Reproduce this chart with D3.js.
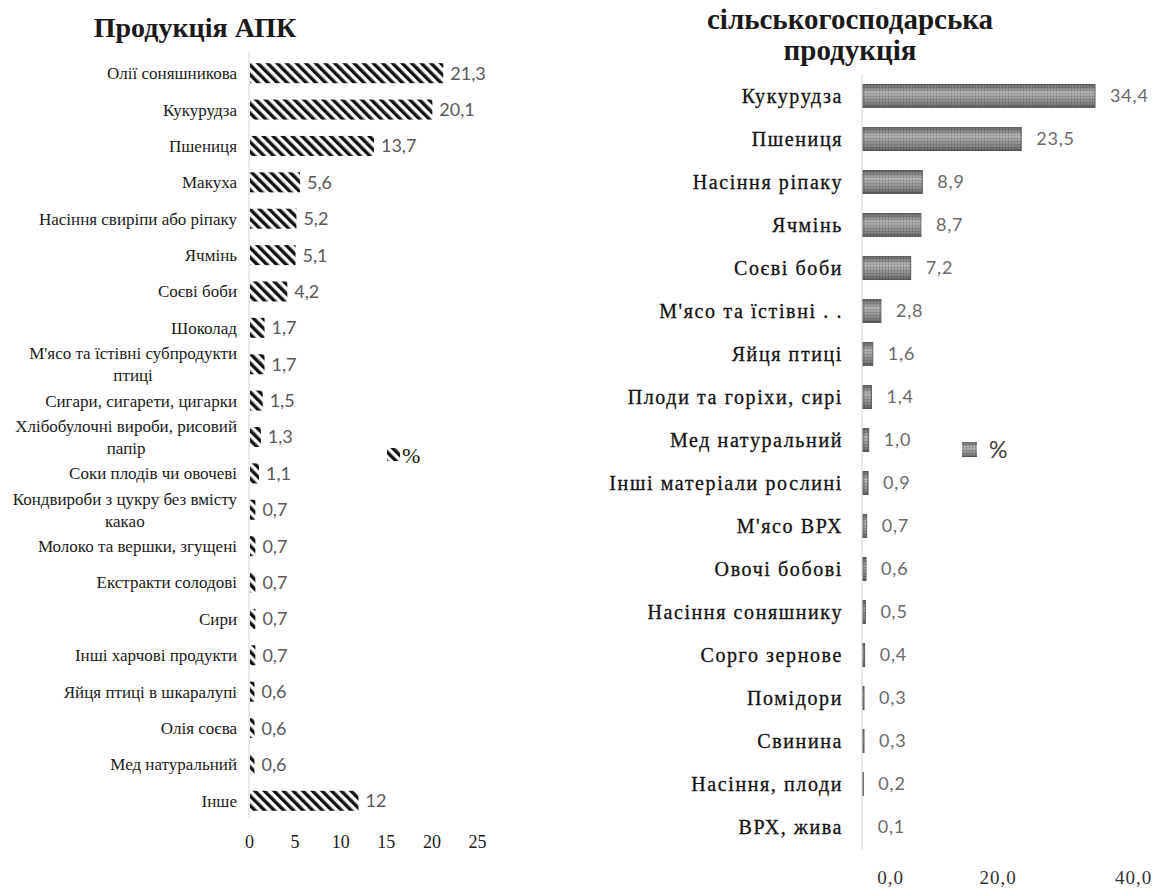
<!DOCTYPE html>
<html>
<head>
<meta charset="utf-8">
<script src="https://cdn.jsdelivr.net/npm/d3@7"></script>
<style>
  body { margin: 0; background: #fff; }
  svg { display: block; }
</style>
</head>
<body>
<svg id="chart" width="1155" height="888"></svg>
<script>
// ліва діаграма - продукція АПК
var leftCats = ["Олії соняшникова", "Кукурудза", "Пшениця", "Макуха", "Насіння свиріпи або ріпаку",
  "Ячмінь", "Соєві боби", "Шоколад", "М'ясо та їстівні субпродукти\nптиці", "Сигари, сигарети, цигарки",
  "Хлібобулочні вироби, рисовий\nпапір", "Соки плодів чи овочеві", "Кондвироби з цукру без вмісту\nкакао",
  "Молоко та вершки, згущені", "Екстракти солодові", "Сири", "Інші харчові продукти",
  "Яйця птиці в шкаралупі", "Олія соєва", "Мед натуральний", "Інше"]
var leftVals = [21.3, 20.1, 13.7, 5.6, 5.2, 5.1, 4.2, 1.7, 1.7, 1.5, 1.3, 1.1, 0.7, 0.7, 0.7, 0.7, 0.7, 0.6, 0.6, 0.6, 12]
var leftTicks = [0, 5, 10, 15, 20, 25]

// права діаграма - сільськогосподарська продукція
var rightCats = ["Кукурудза", "Пшениця", "Насіння ріпаку", "Ячмінь", "Соєві боби", "М'ясо та їстівні . .",
  "Яйця птиці", "Плоди та горіхи, сирі", "Мед натуральний", "Інші матеріали рослині", "М'ясо ВРХ",
  "Овочі бобові", "Насіння соняшнику", "Сорго зернове", "Помідори", "Свинина", "Насіння, плоди", "ВРХ, жива"]
var rightVals = [34.4, 23.5, 8.9, 8.7, 7.2, 2.8, 1.6, 1.4, 1.0, 0.9, 0.7, 0.6, 0.5, 0.4, 0.3, 0.3, 0.2, 0.1]
var rightTicks = [0, 20, 40]

var ua = d3.formatLocale({decimal: ",", thousands: " ", grouping: [3], currency: ["", ""]})
var fmtRight = ua.format(".1f")
var fmtLeft = function(v){ return String(v).replace(".", ",") }

var svg = d3.select("#chart")
var defs = svg.append("defs")

// штрихування для лівих стовпців
var hatch = defs.append("pattern")
  .attr("id", "hatch")
  .attr("patternUnits", "userSpaceOnUse")
  .attr("width", 6.8)
  .attr("height", 6.8)
  .attr("patternTransform", "rotate(-45)")
hatch.append("rect").attr("width", 6.8).attr("height", 6.8).attr("fill", "#fff")
hatch.append("rect").attr("x", 0).attr("width", 3.4).attr("height", 6.8).attr("fill", "#111")

// текстура і градієнт для правих стовпців
var dots = defs.append("pattern")
  .attr("id", "dots")
  .attr("patternUnits", "userSpaceOnUse")
  .attr("width", 3)
  .attr("height", 3)
dots.append("rect").attr("width", 1).attr("height", 1).attr("fill", "#444")
dots.append("rect").attr("x", 1.5).attr("y", 1.5).attr("width", 1).attr("height", 1).attr("fill", "#ccc")

var grad = defs.append("linearGradient")
  .attr("id", "bevel")
  .attr("x1", 0).attr("y1", 0).attr("x2", 0).attr("y2", 1)
grad.selectAll("stop")
  .data([["0%", "#5e5e5e"], ["18%", "#858585"], ["35%", "#b0b0b0"], ["60%", "#939393"], ["85%", "#777"], ["100%", "#4c4c4c"]])
  .enter().append("stop")
  .attr("offset", function(d){ return d[0] })
  .attr("stop-color", function(d){ return d[1] })

// ---------- ліва ----------
var xL = d3.scaleLinear().domain([0, 25]).range([249, 477])
var yL = d3.scaleBand().domain(leftCats).range([55, 819]).paddingInner(0.45).paddingOuter(0.225)

svg.append("text")
  .attr("x", 195).attr("y", 37)
  .attr("text-anchor", "middle")
  .attr("font-family", "Liberation Serif")
  .attr("font-weight", "bold")
  .attr("font-size", "28px")
  .attr("fill", "#1a1a1a")
  .text("Продукція АПК")

svg.append("line")
  .attr("x1", xL(0)).attr("x2", xL(0))
  .attr("y1", 52).attr("y2", 818)
  .attr("stroke", "#d4d4d4")

svg.append("g")
  .selectAll("rect")
  .data(leftVals)
  .enter()
  .append("rect")
  .attr("x", xL(0) + 1)
  .attr("y", function(d, i){ return yL(leftCats[i]) })
  .attr("width", function(d){ return xL(d) - xL(0) - 1 })
  .attr("height", yL.bandwidth())
  .attr("fill", "url(#hatch)")

svg.append("g")
  .selectAll("text")
  .data(leftVals)
  .enter()
  .append("text")
  .attr("x", function(d){ return xL(d) + 7 })
  .attr("y", function(d, i){ return yL(leftCats[i]) + yL.bandwidth() / 2 })
  .attr("dy", "0.36em")
  .attr("font-family", "Lato")
  .attr("font-size", "18px")
  .attr("fill", "#595959")
  .text(fmtLeft)

// підписи категорій, довгі - у два рядки
var leftLab = svg.append("g")
  .attr("font-family", "Liberation Serif")
  .attr("font-size", "17px")
  .attr("fill", "#1a1a1a")
leftCats.forEach(function(c, i){
  var cy = yL(c) + yL.bandwidth() / 2
  var parts = c.split("\n")
  if (parts.length == 1) {
    leftLab.append("text")
      .attr("x", 237).attr("y", cy).attr("dy", "0.35em")
      .attr("text-anchor", "end")
      .text(c)
  } else {
    var t1 = leftLab.append("text")
      .attr("x", 237).attr("y", cy - 11).attr("dy", "0.35em")
      .attr("text-anchor", "end")
      .text(parts[0])
    var w = t1.node().getComputedTextLength()
    leftLab.append("text")
      .attr("x", 237 - w / 2).attr("y", cy + 11).attr("dy", "0.35em")
      .attr("text-anchor", "middle")
      .text(parts[1])
  }
})

var axL = svg.append("g")
  .attr("transform", "translate(0,835)")
  .call(d3.axisBottom(xL).tickValues(leftTicks).tickSize(0).tickPadding(0))
axL.select(".domain").remove()
axL.selectAll("text")
  .attr("font-family", "Liberation Serif")
  .attr("font-size", "18px")
  .attr("fill", "#1a1a1a")

// легенда ліва
svg.append("rect")
  .attr("x", 387).attr("y", 448).attr("width", 13).attr("height", 13)
  .attr("fill", "url(#hatch)")
svg.append("text")
  .attr("x", 402).attr("y", 463)
  .attr("font-family", "Liberation Serif")
  .attr("font-size", "22px")
  .attr("fill", "#1a1a1a")
  .text("%")

// ---------- права ----------
var xR = d3.scaleLinear().domain([0, 40]).range([862, 1133])
var yR = d3.scaleBand().domain(rightCats).range([74.5, 848.5]).paddingInner(0.46).paddingOuter(0.23)

svg.append("g")
  .attr("font-family", "Liberation Serif")
  .attr("font-weight", "bold")
  .attr("font-size", "29px")
  .attr("fill", "#1a1a1a")
  .attr("text-anchor", "middle")
  .selectAll("text")
  .data(["сільськогосподарська", "продукція"])
  .enter()
  .append("text")
  .attr("x", 850)
  .attr("y", function(d, i){ return 29 + i * 31 })
  .text(function(d){ return d })

svg.append("line")
  .attr("x1", xR(0)).attr("x2", xR(0))
  .attr("y1", 74).attr("y2", 850)
  .attr("stroke", "#d4d4d4")

var barsR = svg.append("g")
  .selectAll("g")
  .data(rightVals)
  .enter()
  .append("g")
barsR.append("rect")
  .attr("x", xR(0) + 1)
  .attr("y", function(d, i){ return yR(rightCats[i]) })
  .attr("width", function(d){ return Math.max(0, xR(d) - xR(0) - 1) })
  .attr("height", yR.bandwidth())
  .attr("fill", "url(#bevel)")
  .attr("stroke", "#4a4a4a")
  .attr("stroke-width", 0.8)
barsR.append("rect")
  .attr("x", xR(0) + 1)
  .attr("y", function(d, i){ return yR(rightCats[i]) })
  .attr("width", function(d){ return Math.max(0, xR(d) - xR(0) - 1) })
  .attr("height", yR.bandwidth())
  .attr("fill", "url(#dots)")
  .attr("opacity", 0.5)

svg.append("g")
  .selectAll("text")
  .data(rightVals)
  .enter()
  .append("text")
  .attr("x", function(d){ return xR(d) + 15 })
  .attr("y", function(d, i){ return yR(rightCats[i]) + yR.bandwidth() / 2 })
  .attr("dy", "0.36em")
  .attr("font-family", "Lato")
  .attr("font-size", "18px")
  .attr("letter-spacing", "0.8px")
  .attr("fill", "#6a6a6a")
  .text(fmtRight)

svg.append("g")
  .attr("font-family", "Liberation Serif")
  .attr("font-size", "20px")
  .attr("letter-spacing", "1.6px")
  .attr("fill", "#111")
  .attr("stroke", "#111")
  .attr("stroke-width", 0.3)
  .attr("text-anchor", "end")
  .selectAll("text")
  .data(rightCats)
  .enter()
  .append("text")
  .attr("x", 843)
  .attr("y", function(d){ return yR(d) + yR.bandwidth() / 2 })
  .attr("dy", "0.35em")
  .text(function(d){ return d })

var axR = svg.append("g")
  .attr("transform", "translate(0,870)")
  .call(d3.axisBottom(xR).tickValues(rightTicks).tickFormat(fmtRight).tickSize(0).tickPadding(0))
axR.select(".domain").remove()
axR.selectAll("text")
  .attr("font-family", "Liberation Serif")
  .attr("font-size", "19px")
  .attr("letter-spacing", "1px")
  .attr("fill", "#333")
// перший підпис у оригіналі зсунутий праворуч
axR.selectAll(".tick").filter(function(d){ return d == 0 }).select("text").attr("dx", 28)

// легенда права
svg.append("rect")
  .attr("x", 962).attr("y", 442).attr("width", 15).attr("height", 15)
  .attr("fill", "url(#bevel)")
svg.append("rect")
  .attr("x", 962).attr("y", 442).attr("width", 15).attr("height", 15)
  .attr("fill", "url(#dots)").attr("opacity", 0.5)
svg.append("text")
  .attr("x", 989).attr("y", 458)
  .attr("font-family", "Lato")
  .attr("font-size", "23px")
  .attr("fill", "#404040")
  .text("%")
</script>
</body>
</html>
